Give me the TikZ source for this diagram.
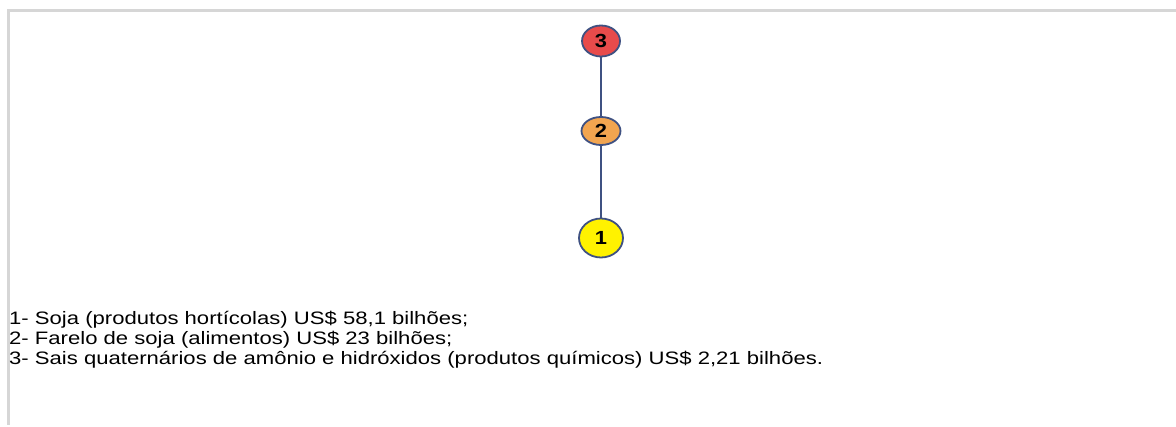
\documentclass[tikz,border=0pt]{standalone}
\usepackage{fontspec}
\setmainfont{Liberation Sans}
\usetikzlibrary{shapes.geometric}
\definecolor{frame}{HTML}{D6D6D6}
\definecolor{edgeblue}{HTML}{3F5182}
\definecolor{nred}{HTML}{E84B4B}
\definecolor{norange}{HTML}{F2A550}
\definecolor{nyellow}{HTML}{FFF200}
\newcommand{\wide}[1]{\scalebox{1.227}[1]{#1}}
\newcommand{\widedigit}[1]{\scalebox{1.15}[1]{#1}}
\begin{document}
\begin{tikzpicture}[x=1pt,y=-1pt,
  vtx/.style={ellipse, draw=edgeblue, line width=1.8pt, inner sep=0pt, font=\fontsize{19}{19}\selectfont\bfseries},
  link/.style={draw=edgeblue, line width=2pt},
  legend/.style={anchor=west, inner sep=0pt, font=\fontsize{18}{20}\selectfont}]
\useasboundingbox (0,0) rectangle (1176,427);
\fill[white] (0,0) rectangle (1176,427);
\draw[frame, line width=3pt] (1176,11) -- (8,11) -- (8,425);
\node[vtx, fill=nred, minimum width=38pt, minimum height=31pt] (n3) at (601,41) {\widedigit{3}};
\node[vtx, fill=norange, minimum width=39pt, minimum height=28pt] (n2) at (601,131) {\widedigit{2}};
\node[vtx, fill=nyellow, minimum width=44pt, minimum height=39pt] (n1) at (601,238) {\widedigit{1}};
\draw[link] (n3) -- (n2);
\draw[link] (n2) -- (n1);
\node[legend] (l1) at (9,320) {\wide{1- Soja (produtos hortícolas) US\$ 58,1 bilhões;}};
\node[legend] (l2) at (9,340) {\wide{2- Farelo de soja (alimentos) US\$ 23 bilhões;}};
\node[legend] (l3) at (9,360) {\wide{3- Sais quaternários de amônio e hidróxidos (produtos químicos) US\$ 2,21 bilhões.}};
\end{tikzpicture}
\end{document}
